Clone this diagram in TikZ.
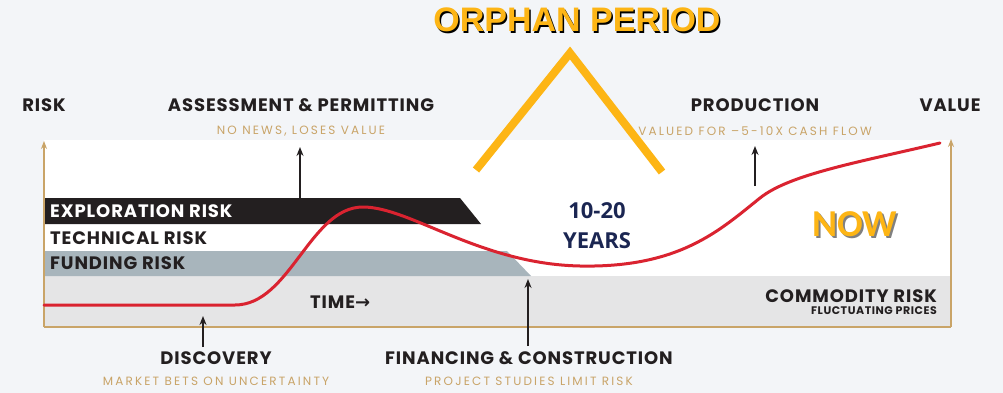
\documentclass[tikz,border=0pt]{standalone}
\usepackage{fontspec}
\setmainfont{Liberation Sans}
\newfontfamily\gotham{Poppins}[LetterSpace=5]
\newfontfamily\gothamwide{Poppins}[LetterSpace=18]
\newfontfamily\symb{DejaVu Sans}
\newfontfamily\opensans{Open Sans}
\newfontfamily\carlito{Carlito}
\usetikzlibrary{arrows.meta}
\definecolor{ink}{HTML}{231F20}
\definecolor{tan}{HTML}{C9A468}
\definecolor{bg}{HTML}{F3F5F8}
\definecolor{strip}{HTML}{E5E5E6}
\definecolor{fundgray}{HTML}{A8B5BC}
\definecolor{curvered}{HTML}{DA2330}
\definecolor{gold}{HTML}{FDB515}
\definecolor{navy}{HTML}{1B2652}
\begin{document}
\begin{tikzpicture}[x=1pt,y=-1pt,line join=round,
  lbl/.style={font=\gotham\bfseries\fontsize{18}{18}\selectfont,text=ink,inner sep=0pt},
  note/.style={font=\gothamwide\fontsize{12}{12}\selectfont,text=tan,inner sep=0pt},
  band/.style={font=\gotham\bfseries\fontsize{18}{18}\selectfont,inner sep=0pt,anchor=west},
  axis/.style={draw=tan,line width=1.3pt,-{Stealth[length=8pt,width=6pt]}},
  tick/.style={draw=ink,line width=1.8pt,-{Stealth[length=9pt,width=7pt]}}]
\useasboundingbox (0,0) rectangle (1003,393);
\fill[bg] (0,0) rectangle (1003,393);
\fill[white] (44,140) rectangle (951,327);
% risk bands
\fill[strip] (44,276) rectangle (951,327);
\fill[fundgray] (44,251) -- (507,251) -- (531,276) -- (44,276) -- cycle;
\fill[ink] (44,198) -- (460,198) -- (481,224) -- (44,224) -- cycle;
\node[band,text=white] (explo) at (50,211) {EXPLORATION RISK};
\node[band,text=ink] (techn) at (50,238) {TECHNICAL RISK};
\node[band,text=ink] (fund) at (50,263) {FUNDING RISK};
\node[band,text=ink] (time) at (310,302) {TIME{\symb\bfseries →}};
\node[lbl,anchor=east] (commod) at (937,296) {COMMODITY RISK};
\node[lbl,anchor=east,font=\gotham\bfseries\fontsize{11}{11}\selectfont] (commodnote) at (937,311) {FLUCTUATING PRICES};
% axes
\draw[tan,line width=1.3pt] (44,327) -- (951,327);
\coordinate (o) at (44,327);
\coordinate (oo) at (951,327);
\node[lbl] (risk) at (44,105) {RISK};
\node[lbl] (value) at (950,105) {VALUE};
\draw[axis] (o) -- (44,141);
\draw[axis] (oo) -- (951,139);
% value curve
\draw[curvered,line width=3pt,line cap=round] (44,305) -- (235,305)
  .. controls (290,305) and (310,207) .. (363,207)
  .. controls (410,207) and (480,264) .. (580,266)
  .. controls (680,268) and (720,230) .. (760,198)
  .. controls (790,174) and (860,162) .. (940,143);
% stages
\node[lbl] (assess) at (301,105) {ASSESSMENT \& PERMITTING};
\node[note] (assessnote) at (301,131) {NO NEWS, LOSES VALUE};
\node[lbl] (prod) at (755,105) {PRODUCTION};
\node[note] (prodnote) at (755,131) {VALUED FOR –5-10X CASH FLOW};
\node[lbl] (disc) at (216,358) {DISCOVERY};
\node[note] (discnote) at (216,381) {MARKET BETS ON UNCERTAINTY};
\node[lbl] (fin) at (529,358) {FINANCING \& CONSTRUCTION};
\node[note] (finnote) at (529,381) {PROJECT STUDIES LIMIT RISK};
\coordinate (a1) at (300,198);
\coordinate (a2) at (755,186);
\coordinate (a3) at (203,347);
\coordinate (a4) at (528,346);
\draw[tick] (a1) -- (300,147);
\draw[tick] (a2) -- (755,146);
\draw[tick] (a3) -- (203,316);
\draw[tick] (a4) -- (528,279);
% orphan period
\draw[gold,line width=8pt,line join=miter] (476,170) -- (570,53) -- (662,172);
\node[text=gold,font=\bfseries\fontsize{34}{34}\selectfont] (orphan) at (577,21)
  {\makebox[0pt][l]{\raisebox{-1.5pt}{\hspace{1.5pt}\color{black}ORPHAN PERIOD}}ORPHAN PERIOD};
\node[text=navy,font=\opensans\bfseries\fontsize{22}{30}\selectfont,align=center] (years) at (597,226) {10-20\\YEARS};
\node[text=gold,font=\carlito\bfseries\fontsize{38}{38}\selectfont] (now) at (855,225)
  {\makebox[0pt][l]{\raisebox{-2pt}{\hspace{2pt}\color{gray}NOW}}NOW};
\end{tikzpicture}
\end{document}
